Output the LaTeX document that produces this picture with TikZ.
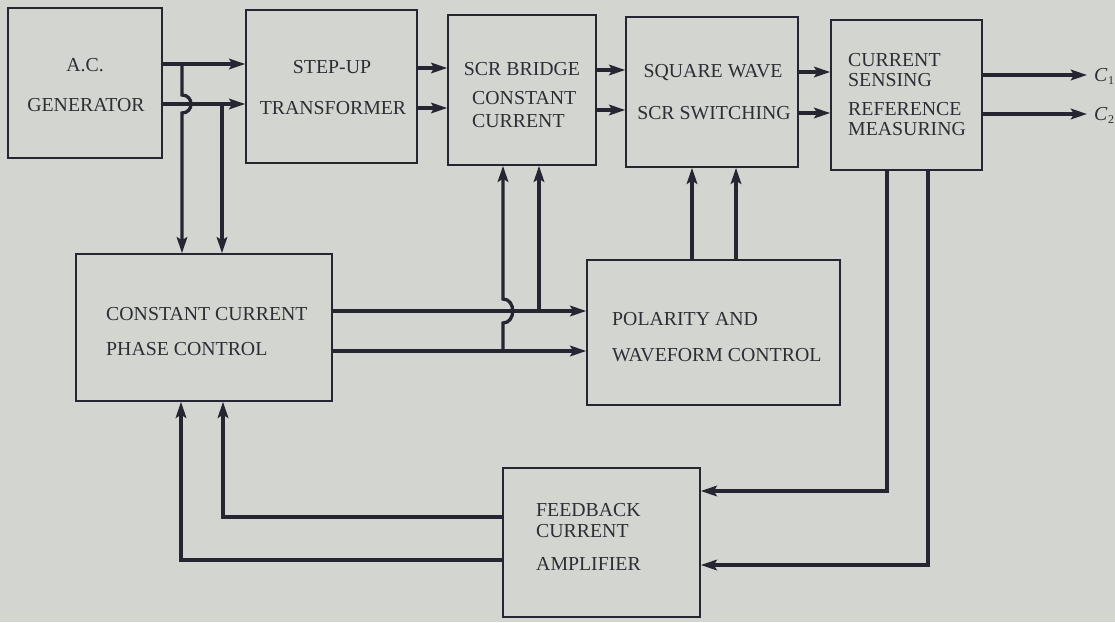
\documentclass[tikz,border=0pt]{standalone}
\usepackage{fontspec}
\setmainfont{Liberation Serif}
\usetikzlibrary{arrows.meta}
\definecolor{bg}{RGB}{211,213,208}
\definecolor{ink}{RGB}{38,38,50}
\definecolor{txt}{RGB}{45,45,52}
\newcommand{\cout}[1]{\textit{C}\kern0.5pt\raisebox{-3.5pt}{\fontsize{12}{12}\selectfont #1}}
\begin{document}
\begin{tikzpicture}[x=1pt,y=-1pt,
  box/.style={draw=ink,line width=1.6pt,inner sep=0pt},
  lbl/.style={anchor=base west,inner sep=0pt,text=txt,font=\fontsize{19.8}{22}\selectfont},
  lblc/.style={lbl,anchor=base},
  conn/.style={draw=ink,line width=3.3pt},
  arr/.style={conn,-{Stealth[length=16pt,width=10.5pt,inset=3pt]}}]
\useasboundingbox[fill=bg] (0,0) rectangle (1115,622);
% boxes
\node[box,minimum width=154pt,minimum height=150pt] (gen) at (85,83) {};
\node[box,minimum width=171pt,minimum height=153pt] (trans) at (331.5,86.5) {};
\node[box,minimum width=148pt,minimum height=150pt] (scr) at (522,90) {};
\node[box,minimum width=172pt,minimum height=150pt] (sq) at (712,92) {};
\node[box,minimum width=151pt,minimum height=150pt] (cs) at (906.5,95) {};
\node[box,minimum width=256pt,minimum height=147pt] (pc) at (204,327.5) {};
\node[box,minimum width=253pt,minimum height=145pt] (pol) at (713.5,332.5) {};
\node[box,minimum width=197pt,minimum height=149pt] (fb) at (601.5,542.5) {};
% labels
\node[lblc] (g1) at (85,71) {A.C.};
\node[lblc] (g2) at (86,111) {GENERATOR};
\node[lblc] (t1) at (332,73) {STEP-UP};
\node[lblc] (t2) at (333,114) {TRANSFORMER};
\node[lblc] (s1) at (522,75) {SCR BRIDGE};
\node[lbl] (s2) at (472,104) {CONSTANT};
\node[lbl] (s3) at (472,127) {CURRENT};
\node[lblc] (q1) at (713,77) {SQUARE WAVE};
\node[lblc] (q2) at (714,119) {SCR SWITCHING};
\node[lbl] (c1) at (848,66) {CURRENT};
\node[lbl] (c2) at (848,86) {SENSING};
\node[lbl] (c3) at (848,115) {REFERENCE};
\node[lbl] (c4) at (848,135) {MEASURING};
\node[lbl] (p1) at (106,320) {CONSTANT CURRENT};
\node[lbl] (p2) at (106,355) {PHASE CONTROL};
\node[lbl] (o1) at (612,325) {POLARITY AND};
\node[lbl] (o2) at (612,361) {WAVEFORM CONTROL};
\node[lbl] (f1) at (536,516) {FEEDBACK};
\node[lbl] (f2) at (536,537) {CURRENT};
\node[lbl] (f3) at (536,570) {AMPLIFIER};
\node[lbl] (out1) at (1094,81) {\cout{1}};
\node[lbl] (out2) at (1094,120) {\cout{2}};
\coordinate (e1) at (1087,75);
\coordinate (e2) at (1087,114);
% top chain
\draw[arr] (gen.east |- 0,64) -- (trans.west |- 0,64);
\draw[arr] (gen.east |- 0,104) -- (trans.west |- 0,104);
\draw[arr] (trans.east |- 0,68) -- (scr.west |- 0,68);
\draw[arr] (trans.east |- 0,108) -- (scr.west |- 0,108);
\draw[arr] (scr.east |- 0,70) -- (sq.west |- 0,70);
\draw[arr] (scr.east |- 0,110) -- (sq.west |- 0,110);
\draw[arr] (sq.east |- 0,72) -- (cs.west |- 0,72);
\draw[arr] (sq.east |- 0,113) -- (cs.west |- 0,113);
\draw[arr] (cs.east |- e1) -- (e1);
\draw[arr] (cs.east |- e2) -- (e2);
% generator taps down to phase control
\draw[arr] (182,64) -- (182,95) .. controls (194,95) and (194,113) .. (182,113) -- (pc.north -| 182,0);
\draw[arr] (222,104) -- (pc.north -| 222,0);
% phase control to polarity
\draw[arr] (pc.east |- 0,311) -- (pol.west |- 0,311);
\draw[arr] (pc.east |- 0,351) -- (pol.west |- 0,351);
% taps up to SCR bridge
\draw[arr] (539,311) -- (scr.south -| 539,0);
\draw[arr] (503,351) -- (503,323) .. controls (516,323) and (516,299) .. (503,299) -- (scr.south -| 503,0);
% polarity up to square wave
\draw[arr] (pol.north -| 692,0) -- (sq.south -| 692,0);
\draw[arr] (pol.north -| 736,0) -- (sq.south -| 736,0);
% current sensing down to feedback
\draw[arr] (cs.south -| 887,0) |- (fb.east |- 0,491);
\draw[arr] (cs.south -| 928,0) |- (fb.east |- 0,565);
% feedback to phase control
\draw[arr] (fb.west |- 0,517) -| (pc.south -| 223,0);
\draw[arr] (fb.west |- 0,560) -| (pc.south -| 181,0);
\end{tikzpicture}
\end{document}
